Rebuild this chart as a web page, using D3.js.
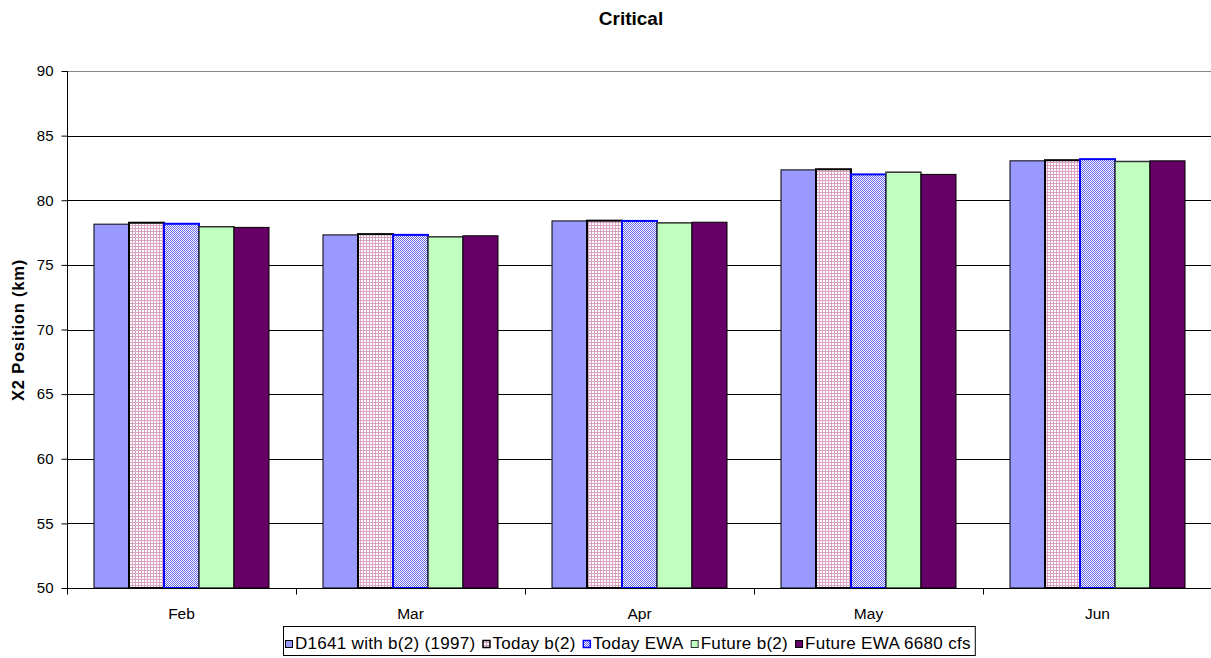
<!DOCTYPE html>
<html><head><meta charset="utf-8">
<script src="https://cdn.jsdelivr.net/npm/d3@7/dist/d3.min.js"></script>
<style>body{margin:0;background:#fff;font-family:Arial,"Liberation Sans",sans-serif}</style>
</head><body>
<svg id="c" width="1211" height="658"></svg>
<script>
const months = ["Feb","Mar","Apr","May","Jun"];
const seriesNames = ["D1641 with b(2) (1997)","Today b(2)","Today EWA","Future b(2)","Future EWA 6680 cfs"];
const d1641 = [78.15, 77.32, 78.40, 82.35, 83.05];
const todayB2 = [78.26, 77.38, 78.42, 82.40, 83.10];
const todayEWA = [78.18, 77.32, 78.40, 82.00, 83.18];
const futureB2 = [77.95, 77.17, 78.25, 82.17, 83.00];
const futureEWA = [77.90, 77.25, 78.30, 82.00, 83.05];
const yTicks = [50,55,60,65,70,75,80,85,90];
const allSeries = [d1641, todayB2, todayEWA, futureB2, futureEWA];

(function(){
const FONT = "Arial, 'Liberation Sans', sans-serif";
const svg = d3.select("#c").attr("font-family", FONT);
const defs = svg.append("defs");
const p1 = defs.append("pattern").attr("id","pGrid").attr("width",3).attr("height",3).attr("patternUnits","userSpaceOnUse");
p1.append("rect").attr("width",3).attr("height",3).attr("fill","#fff");
p1.append("rect").attr("x",0).attr("y",0).attr("width",1).attr("height",3).attr("fill","#d9a0c0");
p1.append("rect").attr("x",0).attr("y",0).attr("width",3).attr("height",1).attr("fill","#d9a0c0");
const p2 = defs.append("pattern").attr("id","pCheck").attr("width",2).attr("height",2).attr("patternUnits","userSpaceOnUse");
p2.append("rect").attr("width",2).attr("height",2).attr("fill","#fff");
p2.append("rect").attr("x",0).attr("y",0).attr("width",1).attr("height",1).attr("fill","#6666ee");
p2.append("rect").attr("x",1).attr("y",1).attr("width",1).attr("height",1).attr("fill","#6666ee");

const styles = [
  {fill:"#9999ff", stroke:"#000", sw:1},
  {fill:"url(#pGrid)", stroke:"#000", sw:2},
  {fill:"url(#pCheck)", stroke:"#0000ff", sw:2},
  {fill:"#c0ffc0", stroke:"#333", sw:1.5},
  {fill:"#660066", stroke:"#000", sw:1}
];

const L = 67, R = 1212, T = 71, B = 588;
const x0 = d3.scaleBand().domain(months).range([L,R]).paddingInner(54/229).paddingOuter(27/229);
const xc = d3.scaleBand().domain(months).range([L,R]);
const x1 = d3.scaleBand().domain(d3.range(5)).range([0,x0.bandwidth()]);
const y = d3.scaleLinear().domain([50,90]).range([B,T]);

svg.append("g").selectAll("line").data(yTicks.filter(d=>d>50)).join("line")
  .attr("x1",L).attr("x2",R).attr("y1",d=>Math.round(y(d))+0.5).attr("y2",d=>Math.round(y(d))+0.5)
  .attr("stroke",d=>d===90?"#888":"#000").attr("stroke-width",1);

allSeries.forEach((vals,si)=>{
  svg.append("g").selectAll("rect").data(vals).join("rect")
    .attr("x",(d,i)=>x0(months[i])+x1(si))
    .attr("y",d=>y(d))
    .attr("width",x1.bandwidth())
    .attr("height",d=>B-y(d))
    .attr("fill",styles[si].fill)
    .attr("stroke",styles[si].stroke)
    .attr("stroke-width",styles[si].sw);
});

const ya = svg.append("g").attr("transform",`translate(${L+0.5},0)`)
  .call(d3.axisLeft(y).tickValues(yTicks).tickSize(6).tickPadding(8));
ya.select(".domain").attr("stroke","#000").attr("d",`M0,${T}V${B}`);
ya.selectAll("text").attr("font-size",15).attr("font-family",FONT).attr("fill","#000");
ya.selectAll("line").attr("stroke","#000");

const xa = svg.append("g").attr("transform",`translate(0,${B+0.5})`);
xa.append("line").attr("x1",L).attr("x2",R).attr("stroke","#000");
xa.selectAll("line.t").data(months.concat(["end"])).join("line").attr("class","t")
  .attr("x1",(d,i)=>Math.round(L+i*xc.bandwidth())+0.5).attr("x2",(d,i)=>Math.round(L+i*xc.bandwidth())+0.5)
  .attr("y1",0).attr("y2",6).attr("stroke","#000");
xa.selectAll("text").data(months).join("text")
  .attr("x",d=>xc(d)+xc.bandwidth()/2).attr("y",30)
  .attr("text-anchor","middle").attr("font-size",15.5).text(d=>d);

svg.append("text").attr("x",631).attr("y",25).attr("text-anchor","middle")
  .attr("font-size",19).attr("font-weight","bold").text("Critical");
svg.append("text").attr("transform","translate(24,330) rotate(-90)").attr("text-anchor","middle")
  .attr("font-size",16.5).attr("font-weight","bold").attr("letter-spacing",0.8).text("X2 Position (km)");

const lg = svg.append("g");
const box = lg.append("rect").attr("y",626.5).attr("height",29).attr("fill","#fff").attr("stroke","#000");
let cx = 285;
seriesNames.forEach((n,i)=>{
  lg.append("rect").attr("x",cx+0.5).attr("y",640.5).attr("width",7).attr("height",7)
    .attr("fill",styles[i].fill).attr("stroke",styles[i].stroke).attr("stroke-width",i===1||i===2?1.5:1);
  const t = lg.append("text").attr("x",cx+10).attr("y",649).attr("font-size",17).attr("letter-spacing",0.3).text(n);
  const w = t.node().getComputedTextLength();
  cx += 10 + w + 7;
});
box.attr("x",283.5).attr("width",cx-283-3);
})();
</script>
</body></html>
